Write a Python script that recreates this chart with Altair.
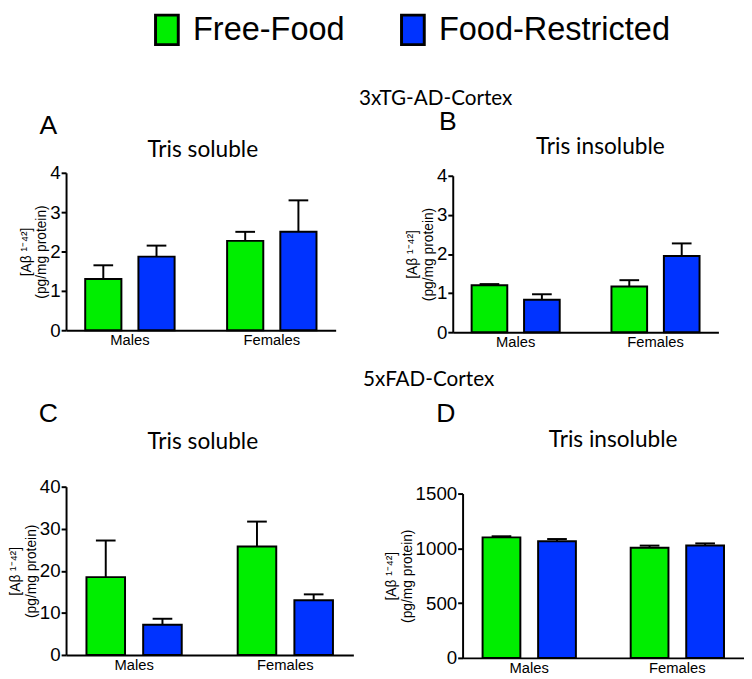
import altair as alt
import pandas as pd

sexes = ["Males", "Females"]
diets = ["Free-Food", "Food-Restricted"]
colors = ["#00EE00", "#0033FF"]

# order: Males/Free-Food, Males/Food-Restricted, Females/Free-Food, Females/Food-Restricted
bar_sex = ["Males", "Males", "Females", "Females"]
bar_diet = ["Free-Food", "Food-Restricted", "Free-Food", "Food-Restricted"]

a_mean = [1.30, 1.87, 2.27, 2.50]
a_upper = [1.65, 2.15, 2.50, 3.30]
b_mean = [1.20, 0.83, 1.17, 1.95]
b_upper = [1.23, 0.97, 1.33, 2.27]
c_mean = [18.5, 7.2, 25.8, 13.0]
c_upper = [27.2, 8.6, 31.7, 14.4]
d_mean = [1100, 1065, 1005, 1025]
d_upper = [1110, 1085, 1025, 1045]

a_ticks = [0, 1, 2, 3, 4]
b_ticks = [0, 1, 2, 3, 4]
c_ticks = [0, 10, 20, 30, 40]
d_ticks = [0, 500, 1000, 1500]

y_title = ["[A\u03b2 \u00b9\u207b\u2074\u00b2]", "(pg/mg protein)"]

legend = alt.Legend(
    orient="none", legendX=86, legendY=-162, direction="horizontal", title=None,
    labelFont="Liberation Sans", labelFontSize=33, labelColor="black", labelLimit=0,
    symbolType="M-0.77,-1H0.77V1H-0.77Z", symbolSize=900,
    symbolStrokeColor="black", symbolStrokeWidth=3, symbolOpacity=1,
    labelOffset=10, columnPadding=50, padding=0,
)


def panel(mean, upper, ticks, width, height, top_gap, title, title_dx, title_dy,
          letter, letter_dx, letter_dy):
    df = pd.DataFrame({"sex": bar_sex, "diet": bar_diet, "mean": mean, "upper": upper})
    base = alt.Chart(df)
    x = alt.X("sex:N", sort=sexes, title=None,
              scale=alt.Scale(paddingInner=0.37, paddingOuter=0.135),
              axis=alt.Axis(labelAngle=0, ticks=False, domainWidth=2, domainColor="black",
                            labelFontSize=15, labelFont="Liberation Sans", labelColor="black",
                            labelPadding=3))
    xo = alt.XOffset("diet:N", sort=diets, scale=alt.Scale(paddingInner=0.32, paddingOuter=0))
    yaxis = alt.Axis(values=ticks, format="d", title=y_title, grid=False, domainColor="black",
                     domainWidth=2, tickColor="black", tickWidth=2, tickSize=5,
                     labelOverlap=False, labelFontSize=19, labelFont="Liberation Sans",
                     labelColor="black", labelPadding=1, titleFont="Liberation Sans",
                     titleFontSize=14, titleFontWeight="normal", titleColor="black",
                     titlePadding=1)
    yscale = alt.Scale(domain=[ticks[0], ticks[-1]], nice=False, range=[height, top_gap])
    bars = base.mark_bar(stroke="black", strokeWidth=2).encode(
        x=x, xOffset=xo, y=alt.Y("mean:Q", scale=yscale, axis=yaxis),
        color=alt.Color("diet:N", sort=diets, scale=alt.Scale(domain=diets, range=colors), legend=legend),
    )
    err = base.mark_rule(color="black", strokeWidth=2).encode(
        x=x, xOffset=xo, y=alt.Y("mean:Q", scale=yscale, axis=yaxis), y2="upper:Q")
    cap = base.mark_tick(color="black", thickness=2, size=20, opacity=1).encode(
        x=x, xOffset=xo, y=alt.Y("upper:Q", scale=yscale, axis=yaxis))
    lab = alt.Chart(pd.DataFrame({"t": [letter]})).mark_text(
        font="Liberation Sans", fontSize=27, align="center", baseline="middle", color="black"
    ).encode(x=alt.value(letter_dx), y=alt.value(letter_dy), text="t:N")
    ttl = alt.Chart(pd.DataFrame({"t": [title]})).mark_text(
        font="Lato", fontSize=23, align="center", baseline="middle", color="black"
    ).encode(x=alt.value(width / 2 + title_dx), y=alt.value(title_dy), text="t:N")
    return alt.layer(bars, err, cap, lab, ttl).properties(width=width, height=height)


A = panel(a_mean, a_upper, a_ticks, 274, 160, 0, "Tris soluble", 2, -23, "A", -18, -47)
B = panel(b_mean, b_upper, b_ticks, 270, 162, 3, "Tris insoluble", 15, -26, "B", -5, -51)
C = panel(c_mean, c_upper, c_ticks, 292, 171, 0, "Tris soluble", -7, -45, "C", -18, -74)
D = panel(d_mean, d_upper, d_ticks, 286, 174, 7, "Tris insoluble", 10, -47, "D", -17, -74)

row1 = alt.hconcat(A, B, spacing=71, title=alt.Title(
    "3xTG-AD-Cortex", anchor="middle", font="Lato", fontSize=21, fontWeight="normal",
    color="black", dx=68, offset=0)).resolve_scale(x="independent", xOffset="independent", y="independent")
row2 = alt.hconcat(C, D, spacing=31, title=alt.Title(
    "5xFAD-Cortex", anchor="middle", font="Lato", fontSize=21, fontWeight="normal",
    color="black", dx=53, offset=10)).resolve_scale(x="independent", xOffset="independent", y="independent")

chart = alt.vconcat(row1, row2, spacing=20).resolve_scale(
    x="independent", xOffset="independent", y="independent"
).properties(
    padding={"left": 0, "top": 0, "right": 0, "bottom": 0}
).configure_view(stroke=None)

chart.save("out.html", embed_options={"renderer": "svg", "actions": False})
